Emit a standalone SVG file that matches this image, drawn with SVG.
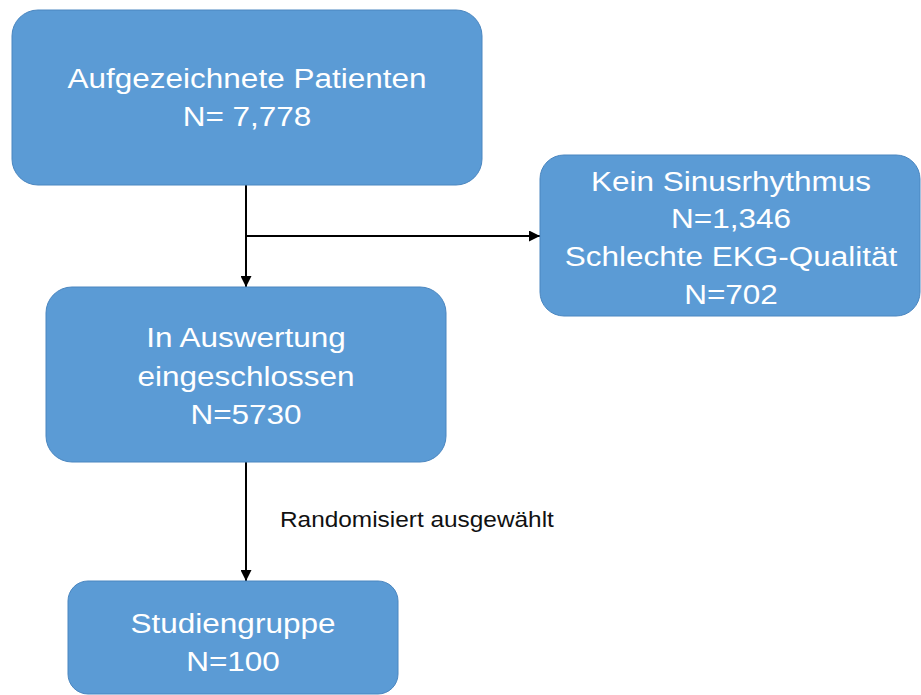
<svg xmlns="http://www.w3.org/2000/svg" width="921" height="695" viewBox="0 0 921 695">
  <defs>
    <marker id="arrow" viewBox="0 0 10 10" refX="10" refY="5" markerWidth="5.5" markerHeight="5.5" markerUnits="strokeWidth" orient="auto">
      <path d="M0,0 L10,5 L0,10 z" fill="#000"/>
    </marker>
    <style>
      .box { fill: #5B9BD5; stroke: #4A86C0; stroke-width: 1; }
      .bt { font-family: "Liberation Sans", Arial, sans-serif; font-size: 28px; fill: #FFFFFF; text-anchor: middle; }
      .lbl { font-family: "Liberation Sans", Arial, sans-serif; font-size: 21.5px; fill: #111111; }
      .conn { stroke: #000; stroke-width: 2; fill: none; }
    </style>
  </defs>
  <rect width="921" height="695" fill="#FFFFFF"/>

  <g id="connectors">
    <line class="conn" x1="246" y1="185" x2="246" y2="287" marker-end="url(#arrow)"/>
    <line class="conn" x1="246" y1="236" x2="540" y2="236" marker-end="url(#arrow)"/>
    <line class="conn" x1="246" y1="462" x2="246" y2="581" marker-end="url(#arrow)"/>
    <text class="lbl" transform="translate(280,527) scale(1.135,1)">Randomisiert ausgewählt</text>
  </g>

  <g id="node-aufgezeichnet">
    <rect class="box" x="12" y="10" width="470" height="175" rx="26" ry="26"/>
    <text class="bt" transform="translate(247,88) scale(1.125,1)"><tspan x="0" y="0">Aufgezeichnete Patienten</tspan><tspan x="0" y="38">N= 7,778</tspan></text>
  </g>

  <g id="node-ausgeschlossen">
    <rect class="box" x="540" y="155" width="380" height="161" rx="24" ry="24"/>
    <text class="bt" transform="translate(731,191) scale(1.125,1)"><tspan x="0" y="0">Kein Sinusrhythmus</tspan><tspan x="0" y="37">N=1,346</tspan><tspan x="0" y="75">Schlechte EKG-Qualität</tspan><tspan x="0" y="113">N=702</tspan></text>
  </g>

  <g id="node-eingeschlossen">
    <rect class="box" x="46" y="287" width="400" height="175" rx="26" ry="26"/>
    <text class="bt" transform="translate(246,347) scale(1.125,1)"><tspan x="0" y="0">In Auswertung</tspan><tspan x="0" y="39">eingeschlossen</tspan><tspan x="0" y="77">N=5730</tspan></text>
  </g>

  <g id="node-studiengruppe">
    <rect class="box" x="68" y="581" width="330" height="113" rx="20" ry="20"/>
    <text class="bt" transform="translate(233,633) scale(1.125,1)"><tspan x="0" y="0">Studiengruppe</tspan><tspan x="0" y="38">N=100</tspan></text>
  </g>
</svg>
